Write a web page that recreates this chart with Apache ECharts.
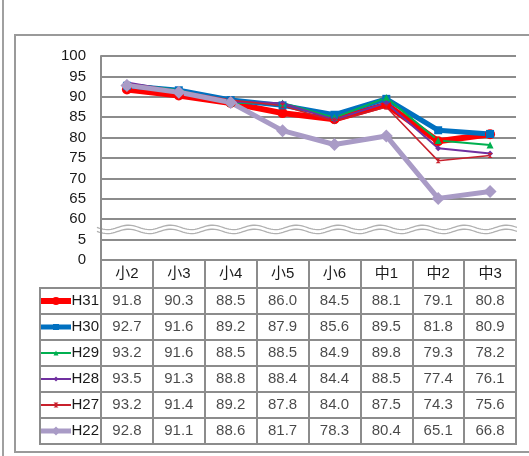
<!DOCTYPE html>
<html><head><meta charset="utf-8">
<script src="https://cdn.jsdelivr.net/npm/echarts@6/dist/echarts.min.js"></script>
<style>html,body{margin:0;padding:0;background:#fff}#c{width:529px;height:456px}</style>
</head><body><div id="c"></div>
<script>
const categories = ['小2','小3','小4','小5','小6','中1','中2','中3'];
const seriesNames = ['H31','H30','H29','H28','H27','H22'];
const H31 = [91.8,90.3,88.5,86.0,84.5,88.1,79.1,80.8];
const H30 = [92.7,91.6,89.2,87.9,85.6,89.5,81.8,80.9];
const H29 = [93.2,91.6,88.5,88.5,84.9,89.8,79.3,78.2];
const H28 = [93.5,91.3,88.8,88.4,84.4,88.5,77.4,76.1];
const H27 = [93.2,91.4,89.2,87.8,84.0,87.5,74.3,75.6];
const H22 = [92.8,91.1,88.6,81.7,78.3,80.4,65.1,66.8];
const yTickLabels = ['0','5','60','65','70','75','80','85','90','95','100'];

const seriesData = {H31, H30, H29, H28, H27, H22};
// broken axis: 0..5 then 60..100, each 5-unit step is one axis unit
function toAxis(v){ return v >= 60 ? 2 + (v - 60) / 5 : v / 5; }

const FONT = "'Liberation Sans Narrow','Liberation Sans','Noto Sans CJK JP',sans-serif";
const GRID = '#8c8c8c';
const TXT = '#1a1a1a';
const styles = {
  H31:{color:'#FF0000', width:6, symbol:'circle', size:10, key:8},
  H30:{color:'#0070C0', width:5, symbol:'rect', size:8, key:6},
  H29:{color:'#00B050', width:2, symbol:'triangle', size:7, key:5},
  H28:{color:'#7030A0', width:2, symbol:'diamond', size:6, key:5},
  H27:{color:'#C8202C', width:1.5, symbol:'path://M0,0L10,0L0,10L10,10Z', size:5, key:5},
  H22:{color:'#A99BC6', width:5, symbol:'diamond', size:13, key:9}
};

const chart = echarts.init(document.getElementById('c'), null, {renderer:'canvas'});

const lineSeries = seriesNames.map(n => ({
  name: n, type: 'line', xAxisIndex: 0, yAxisIndex: 0,
  data: seriesData[n].map(toAxis),
  symbol: styles[n].symbol, symbolSize: styles[n].size, showSymbol: true,
  lineStyle: {color: styles[n].color, width: styles[n].width},
  itemStyle: {color: styles[n].color, borderWidth: 0},
  silent: true
}));

// legend keys inside the table's first column
const keySeries = seriesNames.map((n, r) => ({
  name: 'key_' + n, type: 'line', xAxisIndex: 2, yAxisIndex: 2,
  data: [{value: [1, r], symbol: 'none'}, {value: [16, r]}, {value: [31, r], symbol: 'none'}],
  symbol: styles[n].symbol, symbolSize: styles[n].key, showSymbol: true,
  lineStyle: {color: styles[n].color, width: Math.max(styles[n].width, 2)},
  itemStyle: {color: styles[n].color, borderWidth: 0},
  silent: true
}));

const cellSeries = seriesNames.map((n, r) => ({
  name: 'cell_' + n, type: 'scatter', xAxisIndex: 1, yAxisIndex: 1,
  data: seriesData[n].map((v, i) => [i, r, v]),
  symbolSize: 1, itemStyle: {color: 'rgba(0,0,0,0)'},
  label: {show: true, position: 'inside', color: TXT, fontFamily: FONT, fontSize: 15,
    formatter: p => p.value[2].toFixed(1)},
  silent: true
}));

chart.setOption({
  animation: false,
  backgroundColor: '#fff',
  grid: [
    {left: 101, top: 56, width: 415, height: 204},
    {left: 101, top: 288, width: 415, height: 156, show: true, borderColor: GRID, borderWidth: 2},
    {left: 40, top: 288, width: 61, height: 156, show: true, borderColor: GRID, borderWidth: 2}
  ],
  xAxis: [
    {gridIndex: 0, type: 'category', data: categories, boundaryGap: true,
     axisLine: {show: true, lineStyle: {color: GRID, width: 2}},
     axisTick: {show: false}, axisLabel: {show: false}, splitLine: {show: false}},
    {gridIndex: 1, type: 'category', data: categories, boundaryGap: true, position: 'top',
     axisLine: {show: true, lineStyle: {color: GRID, width: 2}},
     axisTick: {show: true, length: 28, interval: 0, alignWithLabel: false, lineStyle: {color: GRID, width: 2}},
     axisLabel: {show: true, interval: 0, margin: 7, color: TXT, fontFamily: FONT, fontSize: 15},
     splitLine: {show: true, interval: 0, lineStyle: {color: GRID, width: 2}}},
    {gridIndex: 2, type: 'value', min: 0, max: 61, show: false}
  ],
  yAxis: [
    {gridIndex: 0, type: 'value', min: 0, max: 10, interval: 1,
     axisLine: {show: true, lineStyle: {color: GRID, width: 2}},
     axisTick: {show: false},
     axisLabel: {margin: 15, color: TXT, fontFamily: FONT, fontSize: 15,
       formatter: v => yTickLabels[Math.round(v)]},
     splitLine: {show: true, lineStyle: {color: GRID, width: 2}}},
    {gridIndex: 1, type: 'category', data: seriesNames, inverse: true,
     axisLine: {show: false}, axisTick: {show: false}, axisLabel: {show: false},
     splitLine: {show: true, interval: 0, lineStyle: {color: GRID, width: 2}}},
    {gridIndex: 2, type: 'category', data: seriesNames, inverse: true, position: 'right',
     axisLine: {show: false}, axisTick: {show: false},
     axisLabel: {show: true, inside: true, margin: 2, color: TXT, fontFamily: FONT, fontSize: 15},
     splitLine: {show: true, interval: 0, lineStyle: {color: GRID, width: 2}}}
  ],
  series: lineSeries.concat(keySeries, cellSeries)
});

// decorations: frames and axis-break wave
const yc = chart.convertToPixel({yAxisIndex: 0}, 1.5);
const x0 = chart.convertToPixel({xAxisIndex: 0}, 0) - 26 - 4;
const x1 = chart.convertToPixel({xAxisIndex: 0}, categories.length - 1) + 26 + 2;
function wave(off){
  const pts = [];
  for (let x = x0; x <= x1; x += 2) pts.push([x, yc + off + 2.2 * Math.sin(2 * Math.PI * (x - x0) / 42)]);
  return pts;
}
chart.setOption({
  graphic: [
    {type: 'line', shape: {x1: 3, y1: 0, x2: 3, y2: 456}, style: {stroke: '#a0a0a0', lineWidth: 2}, silent: true},
    {type: 'rect', shape: {x: 15, y: 35, width: 600, height: 417}, style: {fill: 'none', stroke: '#9a9a9a', lineWidth: 2}, silent: true, z: -1},
    {type: 'polyline', shape: {points: wave(-2)}, style: {stroke: '#b0b0b0', lineWidth: 1.3, fill: 'none'}, silent: true},
    {type: 'polyline', shape: {points: wave(2)}, style: {stroke: '#b0b0b0', lineWidth: 1.3, fill: 'none'}, silent: true}
  ]
});
</script>
</body></html>
